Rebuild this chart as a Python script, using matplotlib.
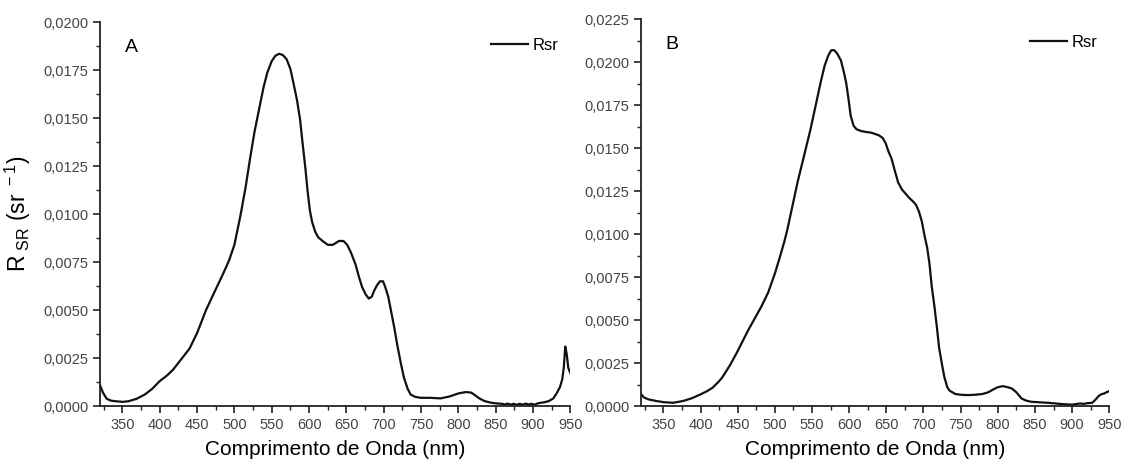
import matplotlib
matplotlib.use("Agg")
import matplotlib.pyplot as plt
from matplotlib.ticker import MultipleLocator

plt.rcParams['font.family'] = ['Liberation Sans', 'DejaVu Sans']
plt.rcParams['mathtext.default'] = 'regular'

# panel A spectrum (nm, Rsr)
a_wavelength = [320, 324, 329, 335, 342, 350, 358, 369, 380, 390, 400, 410, 418, 428,
                440, 450, 462, 474, 485, 493, 500, 508, 515, 521, 527, 533, 539, 544,
                550, 555, 560, 565, 570, 575, 579, 584, 588, 591, 595, 598, 601, 604,
                608, 612, 618, 625, 632, 640, 646, 651, 656, 662, 667, 671, 676, 680,
                684, 687, 691, 695, 699, 702, 706, 709, 714, 718, 723, 727, 732, 736,
                742, 750, 762, 776, 788, 800, 810, 817, 821, 828, 835, 843, 850, 858,
                862, 866, 870, 874, 878, 882, 886, 890, 894, 898, 902, 906, 910, 915,
                921, 927, 932, 936, 939, 941, 943, 945, 947, 950]
a_rsr = [0.0011, 0.0007, 0.00038, 0.00028, 0.00025, 0.00022, 0.00025, 0.00038, 0.0006,
         0.0009, 0.0013, 0.0016, 0.0019, 0.0024, 0.0030, 0.0038, 0.0050, 0.0060, 0.0069,
         0.0076, 0.0084, 0.0099, 0.0114, 0.0129, 0.0143, 0.01545, 0.0166, 0.01736,
         0.01797, 0.01825, 0.01835, 0.01828, 0.01806, 0.01755, 0.01684, 0.0159, 0.0149,
         0.0138, 0.0124, 0.0112, 0.0102, 0.0096, 0.0091, 0.0088, 0.0086, 0.0084, 0.0084,
         0.0086, 0.0086, 0.0084, 0.0080, 0.0074, 0.0067, 0.0062, 0.0058, 0.0056, 0.0057,
         0.0060, 0.0063, 0.0065, 0.0065, 0.0062, 0.0057, 0.0051, 0.0041, 0.0032, 0.0022,
         0.00148, 0.0009, 0.0006, 0.00048, 0.00043, 0.00043, 0.0004, 0.0005, 0.00066,
         0.00073, 0.0007, 0.0006, 0.0004, 0.00026, 0.00018, 0.00014, 0.00012, 0.00008,
         0.00013, 0.00007, 0.00012, 0.00006, 0.00012, 0.00007, 0.00013, 0.00008, 0.00012,
         0.00007, 0.00014, 0.00017, 0.0002, 0.00026, 0.0004, 0.0007, 0.0010, 0.0014,
         0.0020, 0.0031, 0.0027, 0.0020, 0.0017]

# panel B spectrum (nm, Rsr)
b_wavelength = [320, 324, 330, 340, 350, 363, 376, 388, 400, 408, 416, 424, 429, 440,
                450, 464, 482, 491, 500, 507, 513, 517, 524, 531, 539, 548, 556, 562,
                567, 572, 576, 580, 584, 589, 593, 596, 599, 602, 606, 610, 616, 622,
                630, 640, 645, 649, 653, 657, 662, 666, 671, 676, 681, 686, 690, 694,
                698, 701, 705, 708, 711, 715, 718, 721, 725, 728, 732, 735, 743, 752,
                761, 770, 779, 787, 794, 800, 807, 813, 819, 825, 832, 838, 845, 856,
                867, 876, 885, 893, 900, 905, 911, 916, 921, 927, 932, 936, 940, 943,
                946, 950]
b_rsr = [0.0007, 0.0005, 0.00039, 0.0003, 0.00023, 0.00019, 0.00029, 0.00045, 0.00068,
         0.00085, 0.00106, 0.0014, 0.00165, 0.0024, 0.0032, 0.0044, 0.0058, 0.0066,
         0.0077, 0.0087, 0.0096, 0.0103, 0.0117, 0.0131, 0.0145, 0.0161, 0.0177, 0.0189,
         0.0198, 0.0204, 0.0207, 0.0207, 0.0205, 0.0201, 0.0194, 0.0188, 0.0179, 0.0169,
         0.0163, 0.0161, 0.0160, 0.01595, 0.0159, 0.01575, 0.0156, 0.0153, 0.0148, 0.0144,
         0.0136, 0.0130, 0.0126, 0.01235, 0.0121, 0.0119, 0.0117, 0.0113, 0.0107, 0.0100,
         0.0092, 0.0083, 0.0070, 0.0057, 0.0046, 0.0034, 0.0024, 0.0017, 0.0011, 0.0009,
         0.0007, 0.00065, 0.00064, 0.00066, 0.0007, 0.0008, 0.00097, 0.0011, 0.00116,
         0.0011, 0.00102, 0.0008, 0.00044, 0.00032, 0.00025, 0.00022, 0.00019, 0.00016,
         0.00012, 0.0001, 0.00008, 0.00012, 0.00015, 0.00013, 0.00017, 0.00019, 0.0004,
         0.0006, 0.0007, 0.00073, 0.0008, 0.00087]

x_ticks = [350, 400, 450, 500, 550, 600, 650, 700, 750, 800, 850, 900, 950]
a_yticks = [0.0, 0.0025, 0.0050, 0.0075, 0.0100, 0.0125, 0.0150, 0.0175, 0.0200]
b_yticks = [0.0, 0.0025, 0.0050, 0.0075, 0.0100, 0.0125, 0.0150, 0.0175, 0.0200, 0.0225]

panels = [
    ("A", a_wavelength, a_rsr, a_yticks, [0.0887, 0.136, 0.4175, 0.817]),
    ("B", b_wavelength, b_rsr, b_yticks, [0.5688, 0.136, 0.4155, 0.823]),
]

fig = plt.figure(figsize=(11.27, 4.70), dpi=100)

for letter, wl, rsr, yticks, rect in panels:
    ax = fig.add_axes(rect)
    ax.plot(wl, rsr, color="#111111", lw=1.6, label="Rsr", solid_joinstyle="round")
    ax.set_xlim(320, 950)
    ax.set_ylim(0, yticks[-1])
    ax.set_xticks(x_ticks)
    ax.set_xticklabels([str(t) for t in x_ticks])
    ax.set_yticks(yticks)
    ax.set_yticklabels([f"{t:.4f}".replace(".", ",") for t in yticks])
    ax.xaxis.set_minor_locator(MultipleLocator(25))
    ax.yaxis.set_minor_locator(MultipleLocator(0.00125))
    for side in ["top", "right"]:
        ax.spines[side].set_visible(False)
    for side in ["left", "bottom"]:
        ax.spines[side].set_linewidth(1.3)
        ax.spines[side].set_color("#222222")
    ax.tick_params(which="major", direction="out", length=5, width=1.2,
                   labelsize=10.5, labelcolor="#444444", color="#222222")
    ax.tick_params(which="minor", direction="out", length=3, width=1.0, color="#222222")
    ax.set_xlabel("Comprimento de Onda (nm)", fontsize=15, labelpad=6)
    ax.text(0.053, 0.935, letter, transform=ax.transAxes, fontsize=14,
            ha="left", va="center")
    ax.legend(loc="upper right", bbox_to_anchor=(1.0, 0.99), frameon=False,
              fontsize=12, handlelength=2.2, handletextpad=0.3, borderaxespad=0.3)
    if letter == "A":
        ax.set_ylabel(r"R$_{\ SR}$ (sr$^{\ -1}$)", fontsize=16.5, labelpad=7)

fig.savefig("out.png", dpi=100)
